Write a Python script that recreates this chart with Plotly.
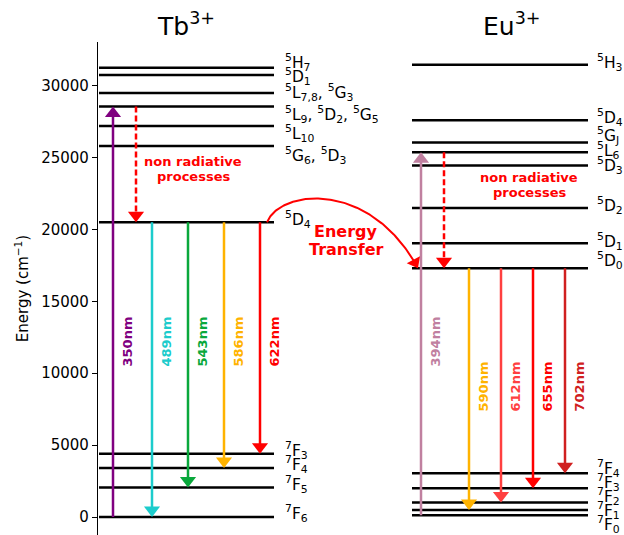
import numpy as np
import plotly.graph_objects as go

# ---------------- data ----------------
tb_level_names = ["5H7", "5D1", "5L78", "5L9", "5L10", "5G6", "5D4", "7F3", "7F4", "7F5", "7F6"]
tb_level_energy = [31250, 30750, 29500, 28550, 27200, 25800, 20500, 4400, 3400, 2050, 0]
tb_level_labels = ["<sup>5</sup>H<sub>7</sub>", "<sup>5</sup>D<sub>1</sub>",
                   "<sup>5</sup>L<sub>7,8</sub>, <sup>5</sup>G<sub>3</sub>",
                   "<sup>5</sup>L<sub>9</sub>, <sup>5</sup>D<sub>2</sub>, <sup>5</sup>G<sub>5</sub>",
                   "<sup>5</sup>L<sub>10</sub>", "<sup>5</sup>G<sub>6</sub>, <sup>5</sup>D<sub>3</sub>",
                   "<sup>5</sup>D<sub>4</sub>", "<sup>7</sup>F<sub>3</sub>", "<sup>7</sup>F<sub>4</sub>",
                   "<sup>7</sup>F<sub>5</sub>", "<sup>7</sup>F<sub>6</sub>"]

eu_level_names = ["5H3", "5D4", "5GJ", "5L6", "5D3", "5D2", "5D1", "5D0", "7F4", "7F3", "7F2", "7F1", "7F0"]
eu_level_energy = [31450, 27600, 26050, 25370, 24450, 21500, 19050, 17300, 3050, 2000, 1000, 480, 130]
eu_level_labels = ["<sup>5</sup>H<sub>3</sub>", "<sup>5</sup>D<sub>4</sub>", "<sup>5</sup>G<sub>J</sub>",
                   "<sup>5</sup>L<sub>6</sub>", "<sup>5</sup>D<sub>3</sub>", "<sup>5</sup>D<sub>2</sub>",
                   "<sup>5</sup>D<sub>1</sub>", "<sup>5</sup>D<sub>0</sub>", "<sup>7</sup>F<sub>4</sub>",
                   "<sup>7</sup>F<sub>3</sub>", "<sup>7</sup>F<sub>2</sub>", "<sup>7</sup>F<sub>1</sub>",
                   "<sup>7</sup>F<sub>0</sub>"]

tb_excitation = ("350nm", "7F6", "5L9")
tb_nonrad = ("5L9", "5D4")
tb_emission_nm = ["489nm", "543nm", "586nm", "622nm"]
tb_emission_to = ["7F6", "7F5", "7F4", "7F3"]

eu_excitation = ("394nm", "7F0", "5L6")
eu_nonrad = ("5L6", "5D0")
eu_emission_nm = ["590nm", "612nm", "655nm", "702nm"]
eu_emission_to = ["7F1", "7F2", "7F3", "7F4"]

y_ticks = [0, 5000, 10000, 15000, 20000, 25000, 30000]

# ---------------- styles ----------------
FONT = "DejaVu Sans"
W, H = 624, 535
ML, MT = 98, 42
PW, PH = W - ML, H - MT
YMIN, YMAX = -1252, 33041
EPP = (YMAX - YMIN) / PH          # energy units per pixel
XMAX = PW                         # x data unit = 1 px


def ypx(py):
    """energy value at a pixel row (for placing text only)"""
    return YMAX - (py - MT) * EPP


TB_X0, TB_X1 = 1, 176
EU_X0, EU_X1 = 314, 490
tb_exc_color = "#800080"
tb_em_colors = ["#1ccccc", "#0aa83c", "#ffb300", "#ff0000"]
eu_exc_color = "#c080a0"
eu_em_colors = ["#ffb300", "#ff4040", "#ff0000", "#d02020"]

# label rows (pixel rows of the label letters)
tb_label_rows = [61, 75, 91, 113, 132, 154, 218, 449, 463, 483, 512]
eu_label_rows = [61, 116, 134, 149, 164, 204, 240, 259, 467, 481, 495, 509, 523]
LABEL_SIZE = 15.5

fig = go.Figure()

E_tb = dict(zip(tb_level_names, tb_level_energy))
E_eu = dict(zip(eu_level_names, eu_level_energy))


def add_levels(x0, x1, energies):
    xs, ys = [], []
    for e in energies:
        xs += [x0, x1, None]
        ys += [e, e, None]
    fig.add_trace(go.Scatter(x=xs, y=ys, mode="lines", line=dict(color="black", width=2.5),
                             hoverinfo="skip", showlegend=False, cliponaxis=False))


def add_arrow(x, e_from, e_to, color, dash="solid", size=14, width=2.5):
    r = size / 2 * EPP
    up = e_to > e_from
    center = e_to - r if up else e_to + r
    fig.add_trace(go.Scatter(x=[x, x], y=[e_from, center], mode="lines",
                             line=dict(color=color, width=width, dash=dash),
                             hoverinfo="skip", showlegend=False))
    fig.add_trace(go.Scatter(x=[x], y=[center], mode="markers",
                             marker=dict(symbol="triangle-up" if up else "triangle-down",
                                         size=size, color=color, line=dict(width=0)),
                             hoverinfo="skip", showlegend=False, cliponaxis=False))


def add_label(x, y, text, color, size=13, angle=-90, bold=True):
    fig.add_annotation(x=x, y=y, xref="x", yref="y", text=text, showarrow=False,
                       textangle=angle, xanchor="center", yanchor="middle",
                       font=dict(family=FONT, size=size, color=color,
                                 weight="bold" if bold else "normal"))


def level_labels(x, labels, rows):
    for lab, row in zip(labels, rows):
        fig.add_annotation(x=x, y=ypx(row + 1), xref="x", yref="y", text=lab, showarrow=False,
                           xanchor="left", yanchor="middle",
                           font=dict(family=FONT, size=LABEL_SIZE, color="black"))


add_levels(TB_X0, TB_X1, tb_level_energy)
level_labels(TB_X1 + 9, tb_level_labels, tb_label_rows)
add_levels(EU_X0, EU_X1, eu_level_energy)
level_labels(EU_X1 + 7, eu_level_labels, eu_label_rows)

# Tb transitions
x = TB_X0 + 14
add_arrow(x, E_tb[tb_excitation[1]], E_tb[tb_excitation[2]], tb_exc_color)
add_label(x + 13.5, ypx(342), tb_excitation[0], tb_exc_color)
add_arrow(TB_X0 + 37, E_tb[tb_nonrad[0]], E_tb[tb_nonrad[1]], "#ff0000", dash="6px,3px")
for i, (nm, to, c) in enumerate(zip(tb_emission_nm, tb_emission_to, tb_em_colors)):
    x = TB_X0 + 53 + 36 * i
    add_arrow(x, E_tb["5D4"], E_tb[to], c)
    add_label(x + 13.5, ypx(342), nm, c)

# Eu transitions
x = EU_X0 + 9
add_arrow(x, E_eu[eu_excitation[1]], E_eu[eu_excitation[2]], eu_exc_color)
add_label(x + 13.5, ypx(342), eu_excitation[0], eu_exc_color)
add_arrow(EU_X0 + 32, E_eu[eu_nonrad[0]], E_eu[eu_nonrad[1]], "#ff0000", dash="6px,3px")
for i, (nm, to, c) in enumerate(zip(eu_emission_nm, eu_emission_to, eu_em_colors)):
    x = EU_X0 + 57 + 32 * i
    add_arrow(x, E_eu["5D0"], E_eu[to], c)
    add_label(x + 13.5, ypx(387), nm, c)

# non radiative texts
for cx, py in [(95, 161), (431, 177)]:
    add_label(cx, ypx(py), "non radiative", "#ff0000", size=13, angle=0)
    add_label(cx, ypx(py + 15), "processes", "#ff0000", size=13, angle=0)

# energy transfer curve (cubic bezier)
p0 = np.array([TB_X1 - 7, E_tb["5D4"]])
p3 = np.array([EU_X0 + 6, E_eu["5D0"]])
c1 = np.array([TB_X1 + 6, E_tb["5D4"] + 33 * EPP])
c2 = np.array([TB_X1 + 96, E_tb["5D4"] + 43 * EPP])
t = np.linspace(0, 1, 120)[:, None]
pts = (1 - t) ** 3 * p0 + 3 * t * (1 - t) ** 2 * c1 + 3 * t ** 2 * (1 - t) * c2 + t ** 3 * p3
head = 13
d_px = np.array([(p3[0] - c2[0]), -(p3[1] - c2[1]) / EPP])
d_px = d_px / np.hypot(*d_px)
hc = p3 - np.array([d_px[0] * head / 2, -d_px[1] * head / 2 * EPP])
mask = pts[:, 1] >= hc[1]
fig.add_trace(go.Scatter(x=list(pts[mask, 0]) + [hc[0]], y=list(pts[mask, 1]) + [hc[1]], mode="lines",
                         line=dict(color="#ff0000", width=2), hoverinfo="skip", showlegend=False))
ang = np.degrees(np.arctan2(d_px[1], d_px[0])) - 90
fig.add_trace(go.Scatter(x=[hc[0]], y=[hc[1]], mode="markers",
                         marker=dict(symbol="triangle-down", size=head, angle=ang, color="#ff0000",
                                     line=dict(width=0)),
                         hoverinfo="skip", showlegend=False))
add_label(248, ypx(231), "Energy", "#ff0000", size=16, angle=0)
add_label(248, ypx(249), "Transfer", "#ff0000", size=16, angle=0)

# titles
fig.add_annotation(x=88, y=1 + 17 / PH, xref="x", yref="paper", text="Tb<sup>3+</sup>",
                   showarrow=False, xanchor="center", yanchor="middle",
                   font=dict(family=FONT, size=25, color="black"))
fig.add_annotation(x=413, y=1 + 17 / PH, xref="x", yref="paper", text="Eu<sup>3+</sup>",
                   showarrow=False, xanchor="center", yanchor="middle",
                   font=dict(family=FONT, size=25, color="black"))

fig.update_layout(
    width=W, height=H, margin=dict(l=ML, r=0, t=MT, b=0),
    paper_bgcolor="white", plot_bgcolor="white",
    font=dict(family=FONT, color="black"),
    xaxis=dict(range=[0, XMAX], visible=False, fixedrange=True),
    yaxis=dict(range=[YMIN, YMAX], showgrid=False, zeroline=False, showline=True,
               linecolor="black", linewidth=1.2, ticks="outside", ticklen=5, tickwidth=1.2,
               tickcolor="black", tickvals=y_ticks, ticktext=[str(v) for v in y_ticks],
               tickfont=dict(family=FONT, size=15, color="black"),
               title=dict(text="Energy (cm<sup>−1</sup>)", font=dict(family=FONT, size=15), standoff=8)),
    showlegend=False,
)

fig.write_html("out.html")
